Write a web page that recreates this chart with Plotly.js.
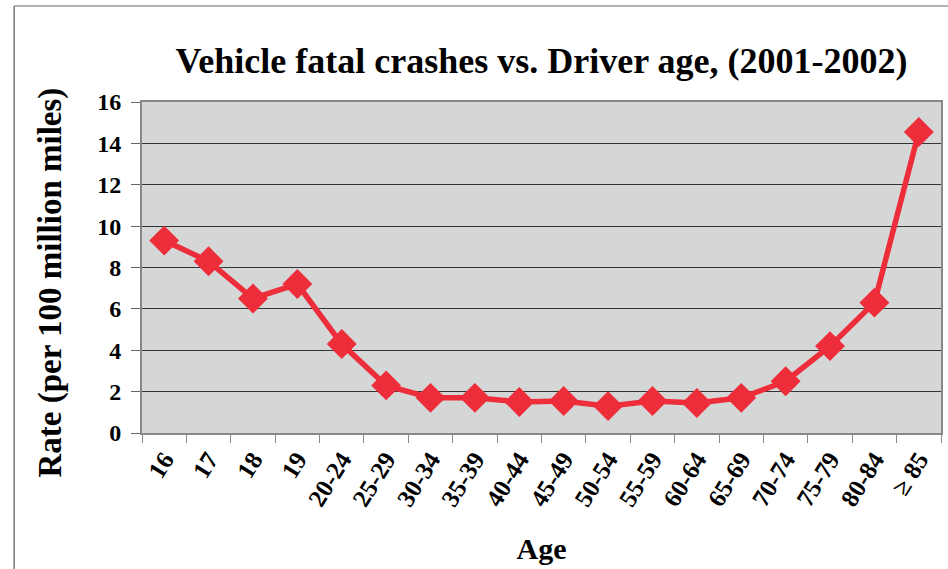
<!DOCTYPE html>
<html>
<head>
<meta charset="utf-8">
<script src="https://cdn.plot.ly/plotly-3.0.1.min.js"></script>
<style>
  body { margin: 0; background: #fff; }
  #the_plot { width: 948px; height: 569px; }
</style>
</head>
<body>
<div id="the_plot"></div>
<script>
// age groups and crash rates (per 100 million miles)
var ages = ["16", "17", "18", "19", "20-24", "25-29", "30-34", "35-39", "40-44", "45-49",
            "50-54", "55-59", "60-64", "65-69", "70-74", "75-79", "80-84", "\u2265 85"];
var rates = [9.3, 8.3, 6.5, 7.2, 4.3, 2.3, 1.7, 1.7, 1.5, 1.55,
             1.3, 1.55, 1.45, 1.7, 2.5, 4.2, 6.3, 14.55];
var yTicks = [0, 2, 4, 6, 8, 10, 12, 14, 16];

var serif = "Liberation Serif, Times New Roman, serif";
var red = "#ee2d3a";

function setup_plot() {
    var data = [{
        x: ages,
        y: rates,
        mode: "lines+markers",
        line: {color: red, width: 5.5},
        marker: {symbol: "diamond", size: 23, color: red},
        cliponaxis: false
    }];

    // plot area is 142..941 x 102..433 px
    var layout = {
        width: 948,
        height: 569,
        margin: {l: 142, r: 7, t: 102, b: 136},
        paper_bgcolor: "#ffffff",
        plot_bgcolor: "#d5d6d6",
        showlegend: false,
        title: {
            text: "<b>Vehicle fatal crashes vs. Driver age, (2001-2002)</b>",
            font: {family: serif, size: 36, color: "#000"},
            xref: "paper", x: 0.5, xanchor: "center",
            yref: "container", y: 0.893, yanchor: "middle"
        },
        xaxis: {
            type: "category",
            range: [-0.5, ages.length - 0.5],
            tickson: "boundaries",
            ticks: "outside", ticklen: 8, tickcolor: "#888",
            tickangle: -58,
            tickfont: {family: serif, size: 25, color: "#000"},
            tickprefix: "<b>", ticksuffix: "</b>",
            showline: true, linecolor: "#888", linewidth: 2, mirror: true,
            showgrid: false,
            title: {text: "<b>Age</b>", font: {family: serif, size: 30, color: "#000"}, standoff: 28}
        },
        yaxis: {
            range: [0, 16],
            tickvals: yTicks,
            ticktext: yTicks.map(function (v) { return "<b>" + v + "</b>"; }),
            ticks: "outside", ticklen: 9, tickcolor: "#666",
            ticklabelstandoff: 5,
            tickfont: {family: serif, size: 24, color: "#000"},
            showline: true, linecolor: "#888", linewidth: 2, mirror: true,
            showgrid: true, gridcolor: "#333", gridwidth: 1.3,
            zeroline: false
        },
        // y title as an annotation so it can sit a bit below centre like the original
        annotations: [{
            text: "<b>Rate (per 100 million miles)</b>",
            font: {family: serif, size: 33, color: "#000"},
            textangle: -90,
            xref: "paper", yref: "paper",
            x: -0.115, y: 0.455, xanchor: "center", yanchor: "middle",
            showarrow: false
        }],
        shapes: [
            // outer frame lines (top and left)
            {type: "line", xref: "paper", yref: "paper", x0: -0.16, x1: 1.01, y0: 1.29, y1: 1.29,
             line: {color: "#999", width: 1.5}},
            {type: "line", xref: "paper", yref: "paper", x0: -0.16, x1: -0.16, y0: 1.29, y1: -0.42,
             line: {color: "#777", width: 1.5}}
        ]
    };

    Plotly.newPlot("the_plot", data, layout, {displayModeBar: false});
}

window.addEventListener("load", setup_plot);
</script>
</body>
</html>
